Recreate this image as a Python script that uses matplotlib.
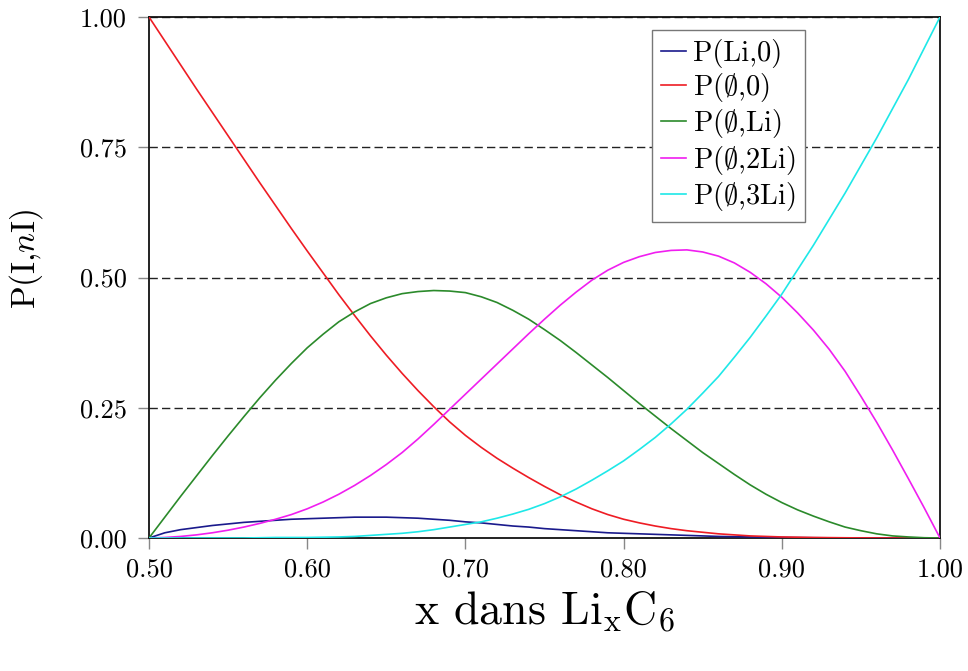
import matplotlib
matplotlib.use("Agg")
import matplotlib.pyplot as plt

plt.rcParams['font.family'] = 'serif'
plt.rcParams['font.serif'] = ['cmr10', 'DejaVu Serif']
plt.rcParams['mathtext.fontset'] = 'cm'
plt.rcParams['axes.formatter.use_mathtext'] = True

# ---- data ----
x = [0.50, 0.51, 0.52, 0.53, 0.54, 0.55, 0.56, 0.57, 0.58, 0.59,
     0.60, 0.61, 0.62, 0.63, 0.64, 0.65, 0.66, 0.67, 0.68, 0.69,
     0.70, 0.71, 0.72, 0.73, 0.74, 0.75, 0.76, 0.77, 0.78, 0.79,
     0.80, 0.81, 0.82, 0.83, 0.84, 0.85, 0.86, 0.87, 0.88, 0.89,
     0.90, 0.91, 0.92, 0.93, 0.94, 0.95, 0.96, 0.97, 0.98, 0.99, 1.00]

p_li_0 = [0.000, 0.010, 0.016, 0.020, 0.024, 0.027, 0.030, 0.032, 0.034, 0.036,
          0.037, 0.038, 0.039, 0.040, 0.040, 0.040, 0.039, 0.038, 0.036, 0.034,
          0.031, 0.029, 0.026, 0.023, 0.021, 0.018, 0.016, 0.014, 0.012, 0.010,
          0.009, 0.008, 0.007, 0.006, 0.005, 0.004, 0.003, 0.0025, 0.002, 0.0015,
          0.001, 0.0008, 0.0005, 0.0003, 0.0002, 0.0001, 0.0, 0.0, 0.0, 0.0, 0.0]

p_e_0 = [1.000, 0.954, 0.908, 0.862, 0.817, 0.772, 0.727, 0.682, 0.638, 0.594,
         0.551, 0.509, 0.467, 0.427, 0.388, 0.351, 0.316, 0.283, 0.252, 0.223,
         0.197, 0.174, 0.153, 0.134, 0.116, 0.099, 0.083, 0.069, 0.056, 0.045,
         0.036, 0.029, 0.023, 0.018, 0.014, 0.011, 0.008, 0.006, 0.004, 0.003,
         0.002, 0.0015, 0.001, 0.0007, 0.0004, 0.0002, 0.0001, 0.0, 0.0, 0.0, 0.0]

p_e_li = [0.000, 0.040, 0.080, 0.119, 0.158, 0.196, 0.233, 0.269, 0.303, 0.335,
          0.365, 0.391, 0.415, 0.434, 0.450, 0.461, 0.469, 0.473, 0.475, 0.474,
          0.471, 0.463, 0.452, 0.437, 0.420, 0.400, 0.379, 0.356, 0.332, 0.308,
          0.283, 0.258, 0.234, 0.210, 0.187, 0.164, 0.143, 0.122, 0.102, 0.084,
          0.068, 0.054, 0.042, 0.031, 0.021, 0.014, 0.008, 0.004, 0.002, 0.0005, 0.000]

p_e_2li = [0.000, 0.001, 0.003, 0.006, 0.010, 0.015, 0.021, 0.028, 0.036, 0.045,
           0.056, 0.069, 0.084, 0.101, 0.120, 0.141, 0.164, 0.190, 0.218, 0.247,
           0.276, 0.305, 0.334, 0.363, 0.392, 0.420, 0.447, 0.472, 0.495, 0.514,
           0.529, 0.540, 0.548, 0.552, 0.553, 0.549, 0.541, 0.528, 0.510, 0.488,
           0.462, 0.432, 0.399, 0.362, 0.320, 0.272, 0.222, 0.169, 0.114, 0.058, 0.000]

p_e_3li = [0.000, 0.000, 0.000, 0.000, 0.000, 0.000, 0.000, 0.0005, 0.001, 0.001,
           0.001, 0.0015, 0.002, 0.003, 0.005, 0.007, 0.009, 0.012, 0.016, 0.021,
           0.026, 0.031, 0.038, 0.046, 0.055, 0.066, 0.079, 0.094, 0.111, 0.129,
           0.148, 0.170, 0.193, 0.219, 0.247, 0.278, 0.310, 0.347, 0.385, 0.426,
           0.468, 0.515, 0.562, 0.612, 0.662, 0.715, 0.768, 0.824, 0.880, 0.940, 1.000]

series_labels = ['P(Li,0)', r'P($\emptyset$,0)', r'P($\emptyset$,Li)',
                 r'P($\emptyset$,2Li)', r'P($\emptyset$,3Li)']
series_colors = ['#1a1a8c', '#ee1c24', '#2b8a2b', '#f01ef0', '#1ee8e8']

xticks = [0.5, 0.6, 0.7, 0.8, 0.9, 1.0]
xticklabels = ['0.50', '0.60', '0.70', '0.80', '0.90', '1.00']
yticks = [0.0, 0.25, 0.5, 0.75, 1.0]
yticklabels = ['0.00', '0.25', '0.50', '0.75', '1.00']

xlabel = r'x dans Li$_{\mathrm{x}}$C$_{6}$'
ylabel = r'P(I,$n$I)'

# ---- figure ----
fig = plt.figure(figsize=(9.68, 6.71), dpi=100)
ax = fig.add_axes([149/968, 1 - 538/671, 791/968, 521/671])

for yv in yticks[1:]:
    ax.axhline(yv, color='#222222', lw=1.0, ls=(0, (6, 3)), zorder=1)

for ys, lab, col in zip([p_li_0, p_e_0, p_e_li, p_e_2li, p_e_3li],
                        series_labels, series_colors):
    ax.plot(x, ys, color=col, lw=1.2, label=lab, zorder=3)

ax.set_xlim(0.5, 1.0)
ax.set_ylim(0.0, 1.0)
ax.set_xticks(xticks)
ax.set_xticklabels(xticklabels)
ax.set_yticks(yticks)
ax.set_yticklabels(yticklabels)
ax.tick_params(axis='both', direction='out', length=8, width=1.0,
               color='#888888', labelsize=19, pad=6)
ax.tick_params(axis='y', pad=8)

for sp in ax.spines.values():
    sp.set_color('#111111')
    sp.set_linewidth(1.3)

ax.set_xlabel(xlabel, fontsize=33, labelpad=6)
ax.set_ylabel(ylabel, fontsize=24)
ax.yaxis.set_label_coords(-0.132, 0.537)

leg = ax.legend(loc='upper right', bbox_to_anchor=(0.829, 0.975),
                fontsize=20.5, frameon=True, fancybox=False, framealpha=1,
                edgecolor='#777777', handlelength=0.9, handletextpad=0.25,
                labelspacing=0.12, borderpad=0.3, borderaxespad=0.0)
leg.get_frame().set_linewidth(1.0)

fig.savefig('out.png', dpi=100)
